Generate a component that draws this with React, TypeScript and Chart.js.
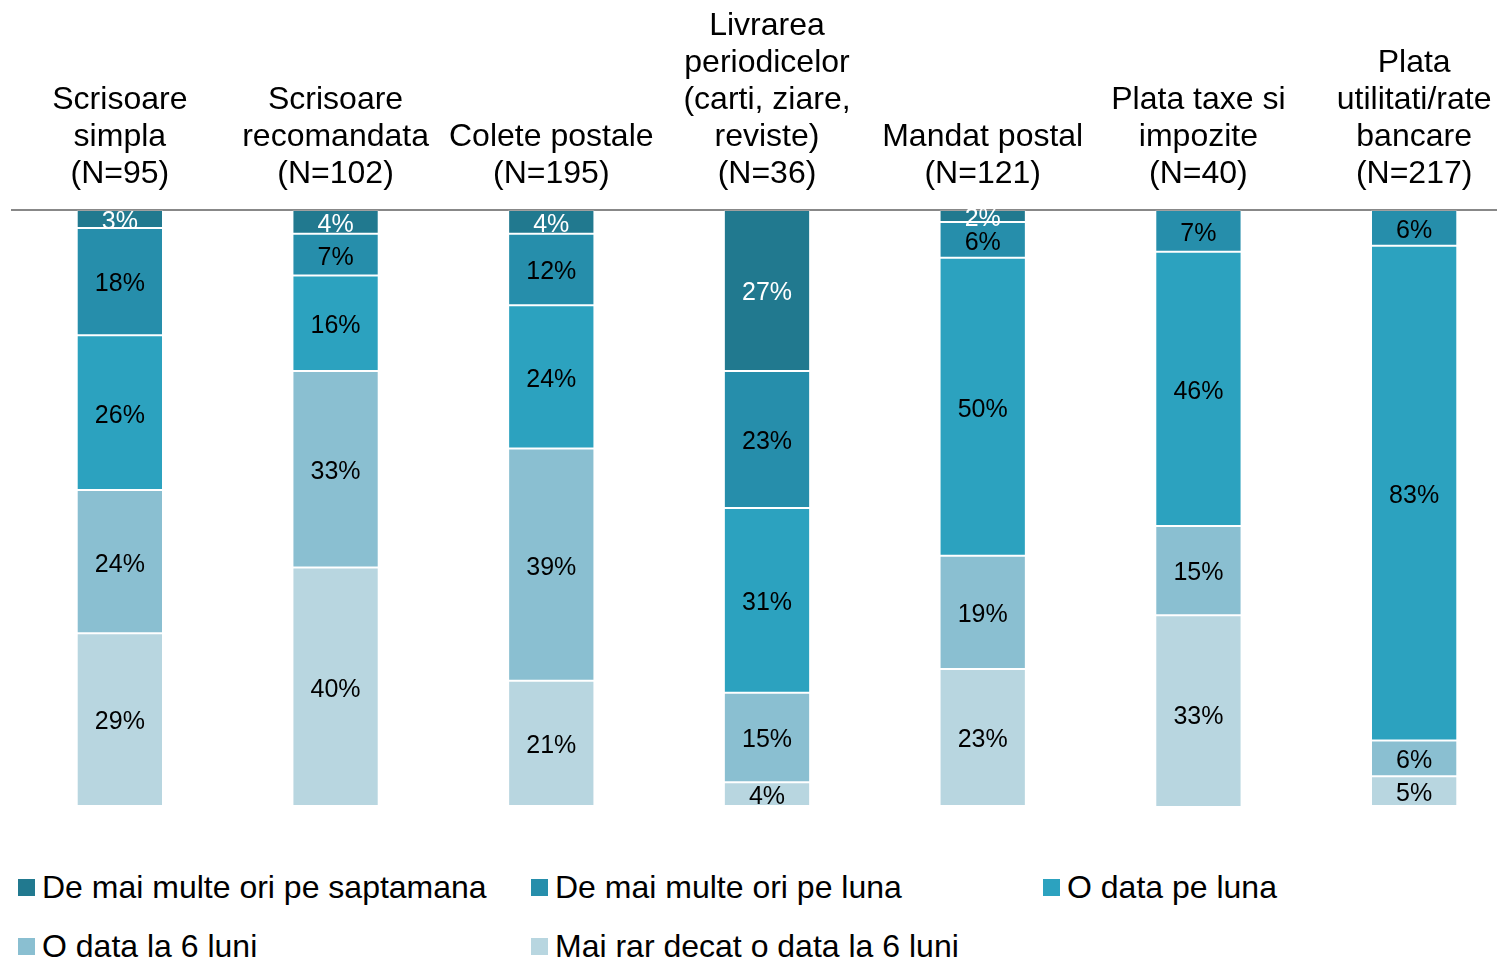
import React, { useEffect, useRef } from "react";
import { Chart, registerables } from "chart.js";

Chart.register(...registerables);

const categories: string[][] = [
  ["Scrisoare", "simpla", "(N=95)"],
  ["Scrisoare", "recomandata", "(N=102)"],
  ["Colete postale", "(N=195)"],
  ["Livrarea", "periodicelor", "(carti, ziare,", "reviste)", "(N=36)"],
  ["Mandat postal", "(N=121)"],
  ["Plata taxe si", "impozite", "(N=40)"],
  ["Plata", "utilitati/rate", "bancare", "(N=217)"],
];

const seriesNames = [
  "De mai multe ori pe saptamana",
  "De mai multe ori pe luna",
  "O data pe luna",
  "O data la 6 luni",
  "Mai rar decat o data la 6 luni",
];

const severalTimesWeek = [3, 4, 4, 27, 2, 0, 0];
const severalTimesMonth = [18, 7, 12, 23, 6, 7, 6];
const oncePerMonth = [26, 16, 24, 31, 50, 46, 83];
const onceIn6Months = [24, 33, 39, 15, 19, 15, 6];
const rarerThan6Months = [29, 40, 21, 4, 23, 33, 5];

const seriesValues = [
  severalTimesWeek,
  severalTimesMonth,
  oncePerMonth,
  onceIn6Months,
  rarerThan6Months,
];

const seriesColors = ["#21798F", "#268EAB", "#2CA2BF", "#8ABFD1", "#B8D6E0"];
const valueLabelColors = ["#FFFFFF", "#000000", "#000000", "#000000", "#000000"];

const FONT = "'Liberation Sans', Arial, Helvetica, sans-serif";

const valueLabelPlugin = {
  id: "valueLabels",
  afterDatasetsDraw(chart: any) {
    const ctx = chart.ctx;
    ctx.save();
    ctx.font = `25px ${FONT}`;
    ctx.textAlign = "center";
    ctx.textBaseline = "middle";
    chart.data.datasets.forEach((ds: any, di: number) => {
      const meta = chart.getDatasetMeta(di);
      meta.data.forEach((bar: any, i: number) => {
        const v = ds.data[i];
        if (!v) return;
        const { x, y, base } = bar.getProps(["x", "y", "base"], true);
        ctx.fillStyle = valueLabelColors[di];
        ctx.fillText(`${v}%`, x, (y + base) / 2 + 3);
      });
    });
    ctx.restore();
  },
};

export default function App() {
  const canvasRef = useRef<HTMLCanvasElement | null>(null);

  useEffect(() => {
    if (!canvasRef.current) return;
    Chart.defaults.font.family = FONT;
    const chart = new Chart(canvasRef.current, {
      type: "bar",
      data: {
        labels: categories,
        datasets: seriesNames.map((name, i) => ({
          label: name,
          data: seriesValues[i],
          backgroundColor: seriesColors[i],
          borderColor: "rgba(255,255,255,0.2)",
          borderWidth: 1,
          borderSkipped: false,
          barPercentage: 0.4,
          categoryPercentage: 1,
        })),
      },
      options: {
        responsive: false,
        animation: false,
        layout: { padding: { left: 12, right: 0, top: 0, bottom: 10 } },
        plugins: {
          legend: { display: false },
          tooltip: { enabled: false },
        },
        scales: {
          x: {
            position: "top",
            stacked: true,
            grid: { display: true, drawOnChartArea: false, drawTicks: false },
            border: { display: true, color: "#888888", width: 2 },
            ticks: {
              color: "#000000",
              font: { size: 32, lineHeight: "37px" },
              padding: 17,
              autoSkip: false,
              maxRotation: 0,
              minRotation: 0,
            },
          },
          y: {
            display: false,
            stacked: true,
            reverse: true,
            min: 0,
            max: 100,
          },
        },
      },
      plugins: [valueLabelPlugin],
    });
    return () => chart.destroy();
  }, []);

  const legendPos = [
    { left: 18, top: 867 },
    { left: 531, top: 867 },
    { left: 1043, top: 867 },
    { left: 18, top: 926 },
    { left: 531, top: 926 },
  ];

  return (
    <div
      style={{
        position: "absolute",
        left: 0,
        top: 0,
        width: 1497,
        height: 961,
        overflow: "hidden",
        background: "#ffffff",
        fontFamily: FONT,
      }}
    >
      <canvas
        ref={canvasRef}
        width={1522}
        height={825}
        style={{ position: "absolute", left: 0, top: -9, width: 1522, height: 825 }}
      />
      {seriesNames.map((name, i) => (
        <div
          key={name}
          style={{
            position: "absolute",
            left: legendPos[i].left,
            top: legendPos[i].top,
            height: 40,
            display: "flex",
            alignItems: "center",
            whiteSpace: "nowrap",
            fontSize: 32,
            lineHeight: 1,
            color: "#000",
          }}
        >
          <span
            style={{
              display: "inline-block",
              width: 17,
              height: 17,
              background: seriesColors[i],
              marginRight: 7,
            }}
          />
          <span>{name}</span>
        </div>
      ))}
    </div>
  );
}
